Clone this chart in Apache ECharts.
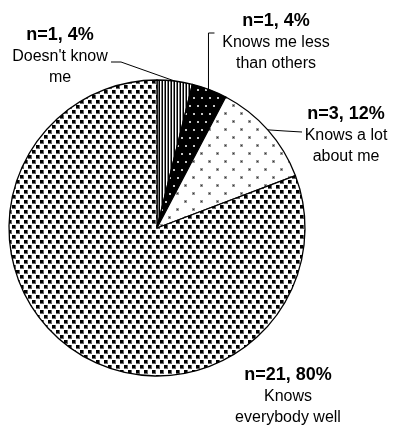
<!DOCTYPE html>
<html>
<head>
<meta charset="utf-8">
<script src="https://cdn.jsdelivr.net/npm/echarts@6/dist/echarts.min.js"></script>
<style>
  html, body { margin: 0; padding: 0; background: #fff; }
  #chart { width: 396px; height: 427px; }
</style>
</head>
<body>
<div id="chart"></div>
<script>
// Survey answers: how well does this person know the others?
const categories = ["Doesn't know me", "Knows me less than others", "Knows a lot about me", "Knows everybody well"];
const counts = [1, 1, 3, 21];
const percents = [4, 4, 12, 80];
const wrappedNames = [
  ["Doesn't know", "me"],
  ["Knows me less", "than others"],
  ["Knows a lot", "about me"],
  ["Knows", "everybody well"]
];

// Small repeating tiles used as black-and-white fill patterns
function makeTile(w, h, bg, draw) {
  const c = document.createElement('canvas');
  c.width = w; c.height = h;
  const g = c.getContext('2d');
  g.fillStyle = bg; g.fillRect(0, 0, w, h);
  draw(g);
  return c;
}
const tiles = [
  // fine vertical stripes
  makeTile(3, 4, '#fff', g => {
    g.fillStyle = '#000'; g.fillRect(0, 0, 1, 4);
    g.fillStyle = '#7a7a7a'; g.fillRect(2, 0, 1, 4);
  }),
  // light dots on black
  makeTile(8, 16, '#000', g => {
    g.fillStyle = '#c4c4c4'; g.fillRect(1, 1, 2, 2); g.fillRect(5, 9, 2, 2);
  }),
  // sparse dark dots on white
  makeTile(16, 16, '#fff', g => {
    g.fillStyle = '#9a9a9a'; g.fillRect(0, 0, 3, 3); g.fillRect(8, 8, 3, 3);
    g.fillStyle = '#333'; g.fillRect(1, 1, 1, 1); g.fillRect(9, 9, 1, 1);
  }),
  // staggered dark squares
  makeTile(8, 10, '#fff', g => {
    g.fillStyle = '#666'; g.fillRect(0, 0, 4, 4); g.fillRect(4, 5, 4, 4);
    g.fillStyle = '#000'; g.fillRect(0, 0, 3, 3); g.fillRect(4, 5, 3, 3);
  })
];

// Where each label block sits (top-centre of the text block)
const labelAnchor = [
  { x: 60, y: 24 },
  { x: 276, y: 10 },
  { x: 346, y: 103 },
  { x: 288, y: 364 }
];

const chart = echarts.init(document.getElementById('chart'), null, { renderer: 'canvas' });

const data = categories.map((name, i) => ({
  name: name,
  value: counts[i],
  itemStyle: { color: { image: tiles[i], repeat: 'repeat' } },
  labelLine: { show: i !== 3 }
}));

chart.setOption({
  animation: false,
  backgroundColor: '#fff',
  series: [{
    type: 'pie',
    center: [157, 228],
    radius: [0, 148],
    startAngle: 90,
    clockwise: true,
    avoidLabelOverlap: false,
    silent: true,
    data: data,
    itemStyle: { borderColor: '#000', borderWidth: 1.3 },
    label: {
      show: true,
      position: 'outside',
      color: '#000',
      fontFamily: 'Liberation Sans, Arial, sans-serif',
      align: 'center',
      formatter: p => {
        const i = p.dataIndex;
        return '{b|n=' + counts[i] + ', ' + percents[i] + '%}\n' +
          wrappedNames[i].map(t => '{a|' + t + '}').join('\n');
      },
      rich: {
        b: { fontSize: 18, fontWeight: 'bold', lineHeight: 22, color: '#000', fontFamily: 'Liberation Sans, Arial, sans-serif', align: 'center' },
        a: { fontSize: 16, lineHeight: 21, color: '#000', fontFamily: 'Liberation Sans, Arial, sans-serif', align: 'center' }
      }
    },
    labelLine: { show: true, lineStyle: { color: '#000', width: 1 } },
    labelLayout: function (p) {
      const i = p.dataIndex;
      const a = labelAnchor[i];
      const out = { x: a.x, y: a.y, align: 'center', verticalAlign: 'top' };
      const s = p.labelLinePoints && p.labelLinePoints[0];
      if (s) {
        if (i === 0) {
          out.labelLinePoints = [[s[0], s[1]], [121, 62], [111, 62]];
        } else if (i === 1) {
          out.labelLinePoints = [[s[0] - 1, s[1]], [s[0] - 1, 33], [s[0] + 5, 33]];
        } else if (i === 2) {
          out.labelLinePoints = [[s[0], s[1]], [285, 131], [302, 132]];
        }
      }
      return out;
    }
  }]
});
</script>
</body>
</html>
